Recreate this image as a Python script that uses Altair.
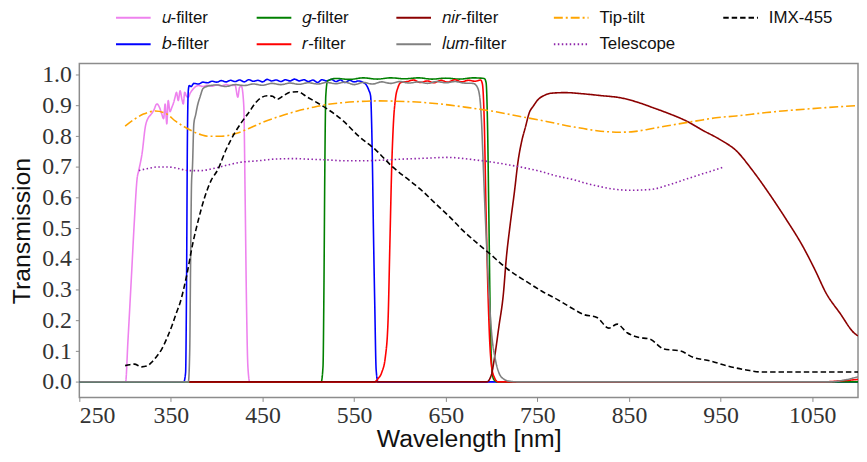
import altair as alt
import pandas as pd

# ---- series names (legend labels) ----
U, B, G, R = "𝑢-filter", "𝑏-filter", "𝑔-filter", "𝑟-filter"
NIR, LUM = "𝑛𝑖𝑟-filter", "𝑙𝑢𝑚-filter"
TIP, TEL, IMX = "Tip-tilt", "Telescope", "IMX-455"

# ---- data: (wavelength nm, transmission) ----
u_filter = [(250, 0), (299, 0), (300.5, 0.0), (303, 0.13), (307, 0.35), (310, 0.52), (313, 0.66),
            (315, 0.69), (318.5, 0.744), (322, 0.83), (325.7, 0.862), (328, 0.87), (331, 0.883),
            (334.7, 0.905), (338, 0.89), (340, 0.872), (342, 0.857), (343.7, 0.905), (345.5, 0.84),
            (347, 0.916), (349, 0.88), (351, 0.894), (353, 0.91), (354.5, 0.927), (356, 0.943),
            (358, 0.916), (360, 0.948), (362, 0.92), (363.5, 0.905), (365, 0.943), (367, 0.93),
            (369, 0.927), (371, 0.94), (372.7, 0.948), (376, 0.959), (380, 0.965), (385, 0.962),
            (390, 0.966), (395, 0.963), (400, 0.967), (405, 0.964), (410, 0.968), (415, 0.965),
            (420, 0.966), (423, 0.927), (425, 0.96), (427, 0.962), (429.5, 0.9), (431, 0.6),
            (432.5, 0.25), (434, 0.05), (436, 0), (1100, 0)]

b_filter = [(250, 0), (364, 0), (366, 0.03), (367, 0.3), (368, 0.8), (369, 0.95), (370, 0.965),
            (372, 0.962), (375, 0.972), (380, 0.97), (385, 0.976), (390, 0.974), (395, 0.979),
            (400, 0.976), (405, 0.981), (410, 0.977), (415, 0.982), (420, 0.978), (425, 0.983),
            (430, 0.977), (435, 0.984), (440, 0.979), (445, 0.982), (450, 0.977), (455, 0.985),
            (460, 0.98), (465, 0.983), (470, 0.978), (475, 0.984), (480, 0.98), (485, 0.986),
            (490, 0.98), (495, 0.984), (500, 0.978), (505, 0.983), (510, 0.975), (515, 0.984),
            (520, 0.98), (525, 0.985), (530, 0.978), (535, 0.983), (540, 0.975), (545, 0.982),
            (550, 0.977), (555, 0.98), (560, 0.975), (563, 0.968), (566, 0.95), (568, 0.93),
            (569, 0.85), (570, 0.7), (571, 0.5), (572.5, 0.25), (574, 0.04), (576, 0), (1100, 0)]

g_filter = [(250, 0), (514, 0), (516, 0.05), (517, 0.3), (518, 0.7), (519, 0.93), (521, 0.98),
            (530, 0.988), (545, 0.985), (560, 0.99), (575, 0.986), (590, 0.99), (605, 0.987),
            (620, 0.99), (635, 0.986), (650, 0.989), (665, 0.986), (680, 0.99), (692, 0.988),
            (694, 0.975), (695.5, 0.85), (697, 0.55), (698.5, 0.22), (700, 0.06), (702, 0.01),
            (706, 0), (1100, 0)]

r_filter = [(370, 0), (572, 0), (576, 0.01), (580, 0.03), (584, 0.08), (587, 0.2), (589, 0.45),
            (591, 0.7), (593, 0.85), (595, 0.92), (598, 0.96), (601, 0.975), (608, 0.978),
            (615, 0.983), (622, 0.975), (630, 0.98), (637, 0.974), (645, 0.982), (652, 0.976),
            (660, 0.984), (667, 0.977), (675, 0.982), (682, 0.979), (688, 0.983), (690, 0.97),
            (692, 0.85), (694, 0.55), (696, 0.3), (698, 0.13), (700, 0.05), (703, 0.015),
            (707, 0), (1060, 0), (1080, 0.003), (1100, 0.008)]

nir_filter = [(370, 0), (695, 0), (698, 0.01), (700, 0.025), (703, 0.075), (708, 0.18), (713, 0.29),
              (716, 0.4), (720, 0.505), (725, 0.62), (729, 0.72), (733, 0.785), (737, 0.83),
              (741, 0.875), (746, 0.9), (751, 0.92), (757, 0.932), (765, 0.94), (780, 0.942),
              (800, 0.938), (820, 0.932), (841, 0.925), (860, 0.91), (877, 0.892), (895, 0.872),
              (913, 0.849), (930, 0.82), (950, 0.788), (967, 0.753), (985, 0.688), (1003, 0.613),
              (1021, 0.532), (1040, 0.44), (1053, 0.365), (1065, 0.29), (1080, 0.225),
              (1097, 0.156), (1100, 0.15)]

lum_filter = [(250, 0), (369, 0), (370.5, 0.1), (371.5, 0.4), (372.5, 0.65), (373.5, 0.7),
              (375, 0.84), (377, 0.87), (379, 0.9), (382, 0.93), (385, 0.955), (390, 0.963),
              (400, 0.967), (410, 0.962), (420, 0.968), (430, 0.965), (440, 0.97), (450, 0.966),
              (460, 0.972), (470, 0.968), (480, 0.973), (490, 0.969), (500, 0.974), (510, 0.97),
              (520, 0.975), (530, 0.971), (540, 0.976), (550, 0.968), (560, 0.975), (570, 0.97),
              (580, 0.977), (590, 0.972), (600, 0.978), (610, 0.973), (620, 0.977), (630, 0.972),
              (640, 0.978), (650, 0.974), (660, 0.978), (670, 0.973), (680, 0.972), (684, 0.962),
              (687, 0.93), (689, 0.85), (691, 0.7), (693, 0.55), (695, 0.42), (697, 0.3),
              (700, 0.16), (704, 0.075), (708, 0.03), (712, 0.012), (720, 0.002), (730, 0),
              (1070, 0), (1085, 0.006), (1100, 0.017)]

tip_tilt = [(300, 0.833), (310, 0.855), (320, 0.872), (333, 0.882), (345, 0.873), (355, 0.849),
            (365, 0.83), (373, 0.817), (383, 0.805), (391, 0.80), (405, 0.80), (420, 0.808),
            (435, 0.825), (450, 0.845), (470, 0.866), (488, 0.882), (505, 0.894), (520, 0.903),
            (540, 0.91), (555, 0.913), (575, 0.915), (595, 0.914), (625, 0.91), (650, 0.903),
            (675, 0.893), (700, 0.882), (730, 0.865), (760, 0.848), (790, 0.83), (815, 0.818),
            (840, 0.813), (855, 0.815), (877, 0.826), (900, 0.838), (924, 0.85), (945, 0.86),
            (967, 0.866), (1000, 0.877), (1021, 0.883), (1060, 0.892), (1100, 0.9)]

telescope = [(315, 0.688), (325, 0.695), (336.5, 0.70), (345, 0.70), (354.5, 0.697), (362, 0.692),
             (369, 0.688), (383, 0.688), (392, 0.692), (401, 0.698), (413, 0.707), (426, 0.715),
             (445, 0.72), (466, 0.726), (485, 0.727), (502, 0.725), (520, 0.723), (540, 0.72),
             (560, 0.72), (580, 0.722), (600, 0.725), (625, 0.728), (653, 0.731), (670, 0.727),
             (682, 0.723), (700, 0.716), (718, 0.707), (736, 0.697), (754, 0.685), (769, 0.672),
             (790, 0.658), (805, 0.645), (820, 0.635), (835, 0.627), (852, 0.624), (865, 0.625),
             (877, 0.628), (895, 0.643), (913, 0.661), (933, 0.68), (953, 0.699)]

imx455 = [(300, 0.053), (305, 0.056), (310, 0.058), (318, 0.049), (324, 0.052), (329, 0.064),
          (335, 0.085), (340, 0.107), (346, 0.145), (351, 0.182), (356, 0.225), (360, 0.258),
          (367, 0.344), (374, 0.453), (380, 0.528), (387, 0.603), (394, 0.657), (401, 0.69),
          (410, 0.755), (419.5, 0.81), (427, 0.845), (434, 0.873), (444, 0.914), (455, 0.932),
          (461, 0.93), (466, 0.92), (473, 0.932), (480, 0.943), (488, 0.945), (499, 0.927),
          (509, 0.91), (520, 0.89), (538, 0.85), (555, 0.80), (574, 0.754), (592, 0.70),
          (610, 0.657), (625, 0.62), (639, 0.58), (655, 0.535), (668, 0.495), (683, 0.455),
          (697, 0.42), (718, 0.366), (740, 0.323), (755, 0.295), (772, 0.268), (790, 0.236),
          (800, 0.22), (815, 0.21), (828, 0.175), (837, 0.188), (848, 0.16), (859, 0.146),
          (873, 0.139), (888, 0.107), (906, 0.101), (920, 0.08), (938, 0.069), (956, 0.053),
          (978, 0.039), (996, 0.032), (1100, 0.032)]

# drawing order
series = [(U, u_filter), (B, b_filter), (G, g_filter), (R, r_filter), (NIR, nir_filter),
          (LUM, lum_filter), (TIP, tip_tilt), (TEL, telescope), (IMX, imx455)]

# legend order (row-major for a 5-column legend)
legend_order = [U, G, NIR, TIP, IMX, B, R, LUM, TEL]
colors = ["#ee82ee", "#008000", "#8b0000", "#ffa500", "#000000",
          "#0000ff", "#ff0000", "#808080", "#8e24aa"]
dashes = [[1, 0], [1, 0], [1, 0], [9, 3, 2, 3], [5.5, 3],
          [1, 0], [1, 0], [1, 0], [1.5, 2.5]]

x_ticks = [250, 350, 450, 550, 650, 750, 850, 950, 1050]
y_ticks = [0.0, 0.1, 0.2, 0.3, 0.4, 0.5, 0.6, 0.7, 0.8, 0.9, 1.0]

rows = []
for name, pts in series:
    for wl, t in pts:
        rows.append({"series": name, "wl": wl, "T": t})
df = pd.DataFrame(rows)

chart = alt.Chart(df).mark_line(clip=True, strokeCap="butt", strokeWidth=1.6,
                                interpolate="monotone").encode(
    x=alt.X("wl:Q", scale=alt.Scale(domain=[250, 1100], nice=False, zero=False),
            axis=alt.Axis(values=x_ticks, title="Wavelength [nm]", format="d")),
    y=alt.Y("T:Q", scale=alt.Scale(domain=[-0.0506, 1.0365], nice=False, zero=False),
            axis=alt.Axis(values=y_ticks, title="Transmission", format=".1f")),
    color=alt.Color("series:N", scale=alt.Scale(domain=legend_order, range=colors),
                    legend=alt.Legend(title=None, orient="none", legendX=36, legendY=-65,
                                      columns=5, direction="horizontal",
                                      symbolType="stroke", symbolSize=1225,
                                      symbolStrokeWidth=1.8, labelFont="Liberation Sans",
                                      labelFontSize=17, labelColor="#111", labelOffset=10,
                                      columnPadding=44, rowPadding=-10, padding=0)),
    strokeDash=alt.StrokeDash("series:N", scale=alt.Scale(domain=legend_order, range=dashes),
                              legend=alt.Legend(title=None)),
    detail="series:N",
).properties(
    width=786, height=337,
    autosize=alt.AutoSizeParams(type="none"),
    padding={"left": 72, "top": 54, "right": 1, "bottom": 56},
).configure_view(
    stroke="#8c8c8c", strokeWidth=1.5
).configure_axis(
    grid=False, domain=False, tickSize=4, tickColor="#8c8c8c", tickWidth=1,
    labelFont="Liberation Serif", labelFontSize=24, labelColor="#333",
    titleFont="Liberation Sans", titleFontSize=25, titleFontWeight="normal", titleColor="#111",
).configure_axisY(
    labelPadding=4, titlePadding=7
).configure_axisX(
    labelPadding=2, titlePadding=0
)

chart.save("out.html", embed_options={"renderer": "svg", "actions": False})
